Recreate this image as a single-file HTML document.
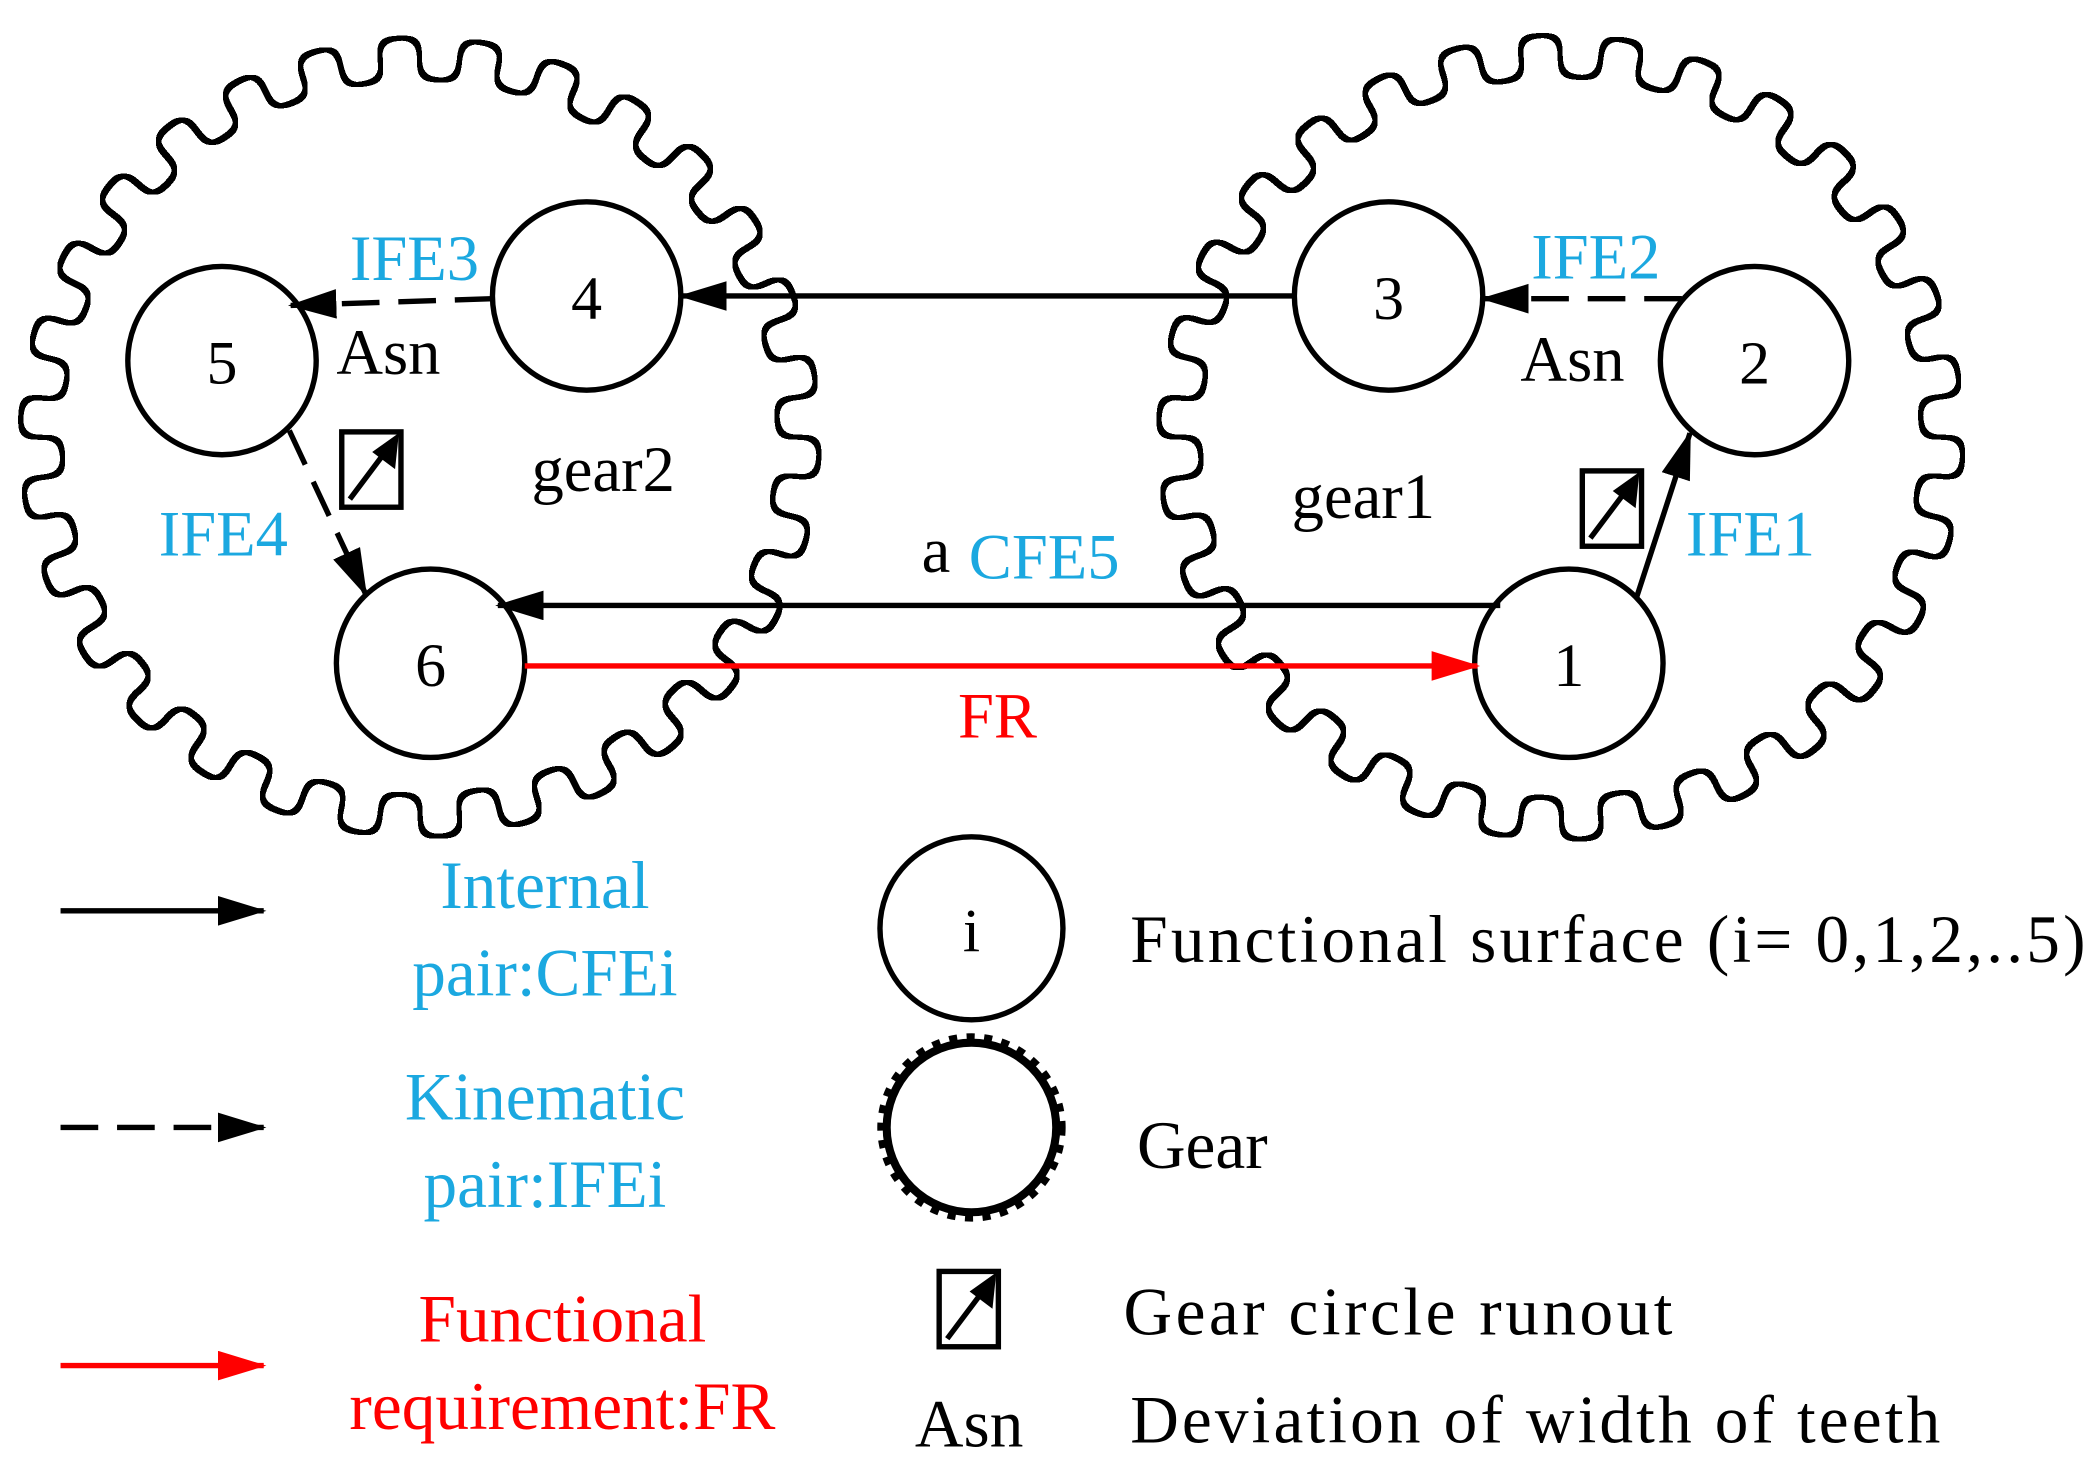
<!DOCTYPE html>
<html><head><meta charset="utf-8"><style>
html,body{margin:0;padding:0;background:#fff;}
svg{display:block;}
text{font-family:"Liberation Serif",serif;}
.b{fill:#1ba8e0}.r{fill:#f00}.k{fill:#000}
</style></head><body>
<svg width="2099" height="1484" viewBox="0 0 1560 1103" preserveAspectRatio="none" xmlns="http://www.w3.org/2000/svg">
<defs>
<marker id="ak" markerWidth="40" markerHeight="24" refX="34" refY="11" orient="auto" markerUnits="userSpaceOnUse" viewBox="0 0 40 24"><path d="M0,0 L36,11 L0,22 z" fill="#000"/></marker>
<marker id="ar" markerWidth="40" markerHeight="24" refX="34" refY="11" orient="auto" markerUnits="userSpaceOnUse" viewBox="0 0 40 24"><path d="M0,0 L36,11 L0,22 z" fill="#f00"/></marker>
<filter id="ol" x="-10%" y="-10%" width="120%" height="120%">
<feGaussianBlur in="SourceAlpha" stdDeviation="6"/>
<feComponentTransfer result="s"><feFuncA type="discrete" tableValues="0 1"/></feComponentTransfer>
<feMorphology in="s" operator="dilate" radius="2" result="d"/>
<feMorphology in="s" operator="erode" radius="2" result="e"/>
<feComposite in="d" in2="e" operator="out" result="o"/>
<feFlood flood-color="#000"/>
<feComposite in2="o" operator="in"/>
</filter>
</defs>
<g filter="url(#ol)">
<circle cx="312" cy="325" r="266" fill="#000"/>
<circle cx="312" cy="325" r="280" fill="none" stroke="#000" stroke-width="34" stroke-dasharray="29 29.64"/>
<circle cx="1160" cy="325" r="268" fill="#000"/>
<circle cx="1160" cy="325" r="282" fill="none" stroke="#000" stroke-width="34" stroke-dasharray="29 30.06"/>
</g>
<circle cx="722" cy="838" r="63" fill="none" stroke="#000" stroke-width="6"/>
<circle cx="722" cy="838" r="67" fill="none" stroke="#000" stroke-width="6" stroke-dasharray="6 7"/>
<g fill="#fff" stroke="#000" stroke-width="4">
<circle cx="165" cy="268" r="70"/><circle cx="436" cy="220" r="70"/><circle cx="320" cy="493" r="70"/>
<circle cx="1032" cy="220" r="70"/><circle cx="1304" cy="268" r="70"/><circle cx="1166" cy="493" r="70"/>
<circle cx="722" cy="690" r="68"/>
</g>
<g font-size="46" text-anchor="middle">
<text x="165" y="285" class="k">5</text><text x="436" y="237" class="k">4</text><text x="320" y="510" class="k">6</text>
<text x="1032" y="237" class="k">3</text><text x="1304" y="285" class="k">2</text><text x="1166" y="510" class="k">1</text>
<text x="722" y="707" class="k">i</text>
</g>
<g stroke="#000" stroke-width="4">
<line x1="962" y1="220" x2="506" y2="220" marker-end="url(#ak)"/>
<line x1="366" y1="222" x2="216" y2="227" stroke-dasharray="28,14" marker-end="url(#ak)"/>
<line x1="1250" y1="222" x2="1102" y2="222" stroke-dasharray="28,14" marker-end="url(#ak)"/>
<line x1="1216" y1="445" x2="1256" y2="322" marker-end="url(#ak)"/>
<line x1="215" y1="320" x2="272" y2="442" stroke-dasharray="28,14" marker-end="url(#ak)"/>
<line x1="1115" y1="450" x2="370" y2="450" marker-end="url(#ak)"/>
<line x1="390" y1="495" x2="1098" y2="495" stroke="#f00" marker-end="url(#ar)"/>
<line x1="45" y1="677" x2="196" y2="677" marker-end="url(#ak)"/>
<line x1="45" y1="838" x2="196" y2="838" stroke-dasharray="28,14" marker-end="url(#ak)"/>
<line x1="45" y1="1015" x2="196" y2="1015" stroke="#f00" marker-end="url(#ar)"/>
</g>
<g stroke="#000" stroke-width="4">
<rect x="254" y="321" width="44" height="56" fill="#fff"/><line x1="260" y1="371" x2="290" y2="331"/><path d="M294,326 L292,345 L280,336z" fill="#000"/>
<rect x="1176" y="350" width="44" height="56" fill="#fff"/><line x1="1182" y1="400" x2="1212" y2="360"/><path d="M1216,355 L1214,374 L1202,365z" fill="#000"/>
<rect x="698" y="945" width="44" height="56" fill="#fff"/><line x1="704" y1="995" x2="734" y2="955"/><path d="M738,950 L736,969 L724,960z" fill="#000"/>
</g>
<g font-size="48">
<text x="260" y="208" class="b">IFE3</text>
<text x="250" y="278" class="k">Asn</text>
<text x="395" y="365" class="k">gear2</text>
<text x="118" y="413" class="b">IFE4</text>
<text x="960" y="385" class="k">gear1</text>
<text x="685" y="425" class="k">a</text><text x="720" y="430" class="b">CFE5</text>
<text x="1138" y="207" class="b">IFE2</text>
<text x="1130" y="283" class="k">Asn</text>
<text x="1253" y="413" class="b">IFE1</text>
<text x="712" y="548" class="r">FR</text>
</g>
<g font-size="50" text-anchor="middle">
<text x="405" y="675" class="b">Internal</text><text x="405" y="740" class="b">pair:CFEi</text>
<text x="405" y="832" class="b">Kinematic</text><text x="405" y="897" class="b">pair:IFEi</text>
<text x="418" y="997" class="r">Functional</text><text x="418" y="1062" class="r">requirement:FR</text>
</g>
<g font-size="50" class="k">
<text x="840" y="715" textLength="710">Functional surface (i= 0,1,2,..5)</text>
<text x="845" y="868">Gear</text>
<text x="835" y="992" textLength="408">Gear circle runout</text>
<text x="680" y="1075">Asn</text>
<text x="840" y="1072" textLength="602">Deviation of width of teeth</text>
</g>
</svg>
</body></html>
